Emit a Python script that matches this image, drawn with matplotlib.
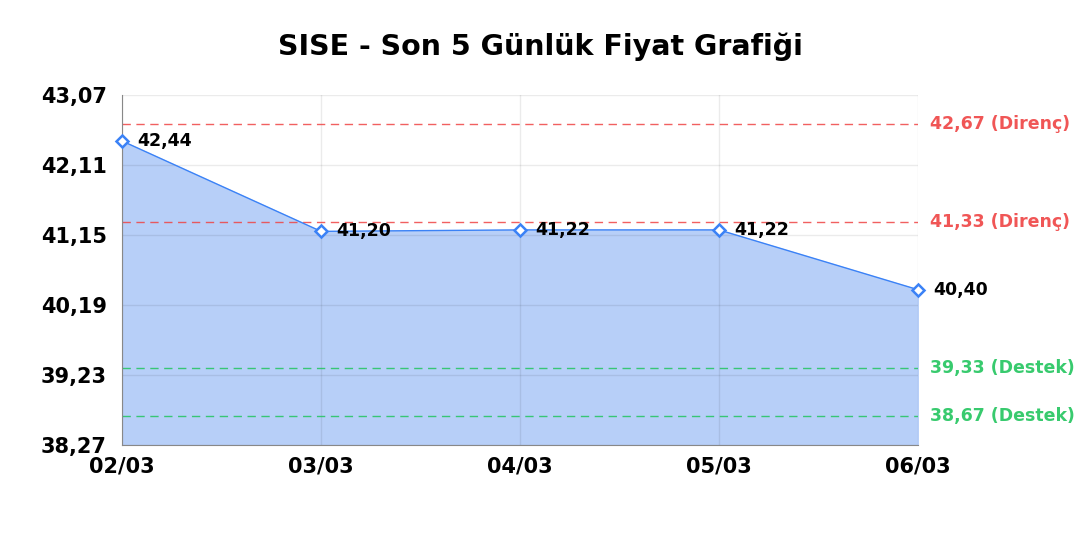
import numpy as np
from matplotlib import pyplot as plt

# veriler
tarihler = ["02/03", "03/03", "04/03", "05/03", "06/03"]
fiyatlar = [42.44, 41.20, 41.22, 41.22, 40.40]
direncler = [42.67, 41.33]
destekler = [39.33, 38.67]
y_ticks = [38.27, 39.23, 40.19, 41.15, 42.11, 43.07]

mavi = "#3b82f6"
kirmizi = "#ef4444"
yesil = "#22c55e"

fig = plt.figure(figsize=(10.8, 5.4), dpi=100)
ax = fig.add_axes([0.113, 0.176, 0.737, 0.648])

x = np.arange(len(tarihler))
ax.fill_between(x, fiyatlar, y_ticks[0], color="#b7cff8", zorder=1)
ax.plot(x, fiyatlar, color=mavi, lw=1, zorder=3)
ax.plot(x, fiyatlar, ls="none", marker="D", ms=6.5, mfc="white", mec=mavi, mew=1.8, zorder=4, clip_on=False)

for xi, yi in zip(x, fiyatlar):
    ax.annotate(f"{yi:.2f}".replace(".", ","), (xi, yi), xytext=(11, 0), textcoords="offset points",
                va="center", ha="left", fontsize=12.5, fontweight="bold", zorder=5)

for d in direncler:
    ax.axhline(d, color=kirmizi, ls=(0, (6, 4)), lw=1, alpha=0.85, zorder=2)
    ax.text(1.015, d, f"{d:.2f} (Direnç)".replace(".", ","), transform=ax.get_yaxis_transform(),
            color=kirmizi, fontsize=12.5, fontweight="bold", va="center", ha="left", alpha=0.9)
for d in destekler:
    ax.axhline(d, color=yesil, ls=(0, (6, 4)), lw=1, alpha=0.85, zorder=2)
    ax.text(1.015, d, f"{d:.2f} (Destek)".replace(".", ","), transform=ax.get_yaxis_transform(),
            color=yesil, fontsize=12.5, fontweight="bold", va="center", ha="left", alpha=0.9)

ax.set_xlim(0, len(tarihler) - 1)
ax.set_ylim(y_ticks[0], y_ticks[-1])
ax.set_xticks(x)
ax.set_xticklabels(tarihler, fontsize=15, fontweight="bold")
ax.set_yticks(y_ticks)
ax.set_yticklabels([f"{t:.2f}".replace(".", ",") for t in y_ticks], fontsize=15, fontweight="bold")
ax.tick_params(axis="y", length=0, pad=11)
ax.tick_params(axis="x", length=0, pad=8)
ax.grid(True, color="black", alpha=0.08, lw=1, zorder=1.5)
for s in ["top", "right"]:
    ax.spines[s].set_visible(False)
ax.spines["left"].set_color("#888888")
ax.spines["bottom"].set_color("#888888")

fig.suptitle("SISE - Son 5 Günlük Fiyat Grafiği", fontsize=20.5, fontweight="bold", y=0.94)
fig.savefig("out.png")
